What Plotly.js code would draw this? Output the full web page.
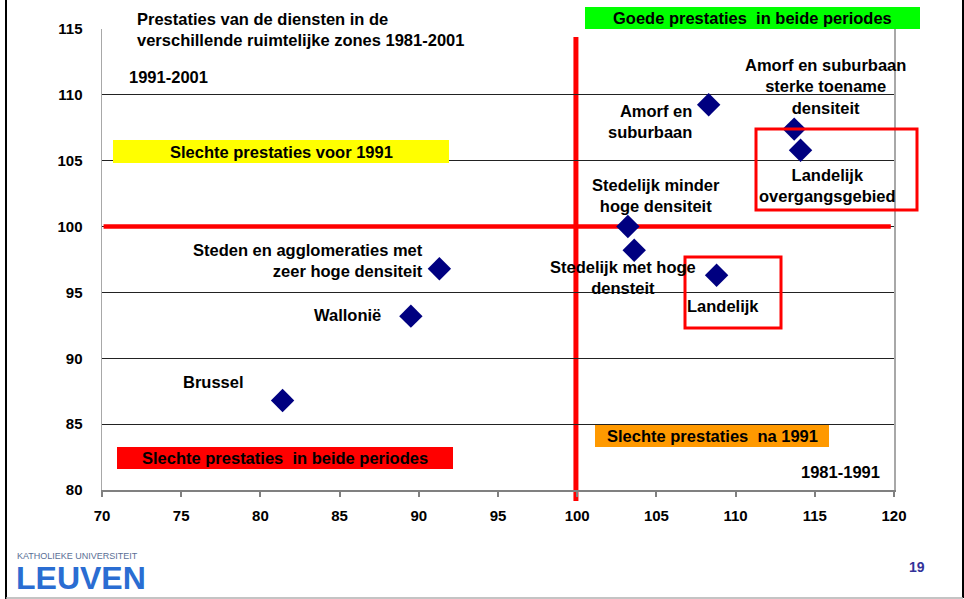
<!DOCTYPE html>
<html>
<head>
<meta charset="utf-8">
<script src="https://cdn.plot.ly/plotly-3.0.1.min.js"></script>
<style>html,body{margin:0;padding:0;background:#fff;}#chart{width:964px;height:599px;}</style>
</head>
<body>
<div id="chart"></div>
<script>
// ---- data ----
const zones = [
  'Amorf en suburbaan',
  'Amorf en suburbaan sterke toename densiteit',
  'Landelijk overgangsgebied',
  'Stedelijk minder hoge densiteit',
  'Stedelijk met hoge densteit',
  'Landelijk',
  'Steden en agglomeraties met zeer hoge densiteit',
  'Wallonië',
  'Brussel'
];
const zoneLabels = [
  'Amorf en<br>suburbaan',
  'Amorf en suburbaan<br>sterke toename<br>densiteit',
  'Landelijk<br>overgangsgebied',
  'Stedelijk minder<br>hoge densiteit',
  'Stedelijk met hoge<br>densteit',
  'Landelijk',
  'Steden en agglomeraties met<br>zeer hoge densiteit',
  'Wallonië',
  'Brussel'
];
const perf1981_1991 = [108.3, 113.7, 114.1, 103.2, 103.6, 108.8, 91.3, 89.5, 81.4];
const perf1991_2001 = [109.25, 107.4, 105.8, 100.0, 98.2, 96.3, 96.8, 93.2, 86.8];
const xTicks = [70, 75, 80, 85, 90, 95, 100, 105, 110, 115, 120];
const yTicks = [80, 85, 90, 95, 100, 105, 110, 115];
const chartTitle = ['Prestaties van de diensten in de', 'verschillende ruimtelijke zones 1981-2001'];
const quadrantTexts = {
  good: 'Goede prestaties \u00a0in beide periodes',
  badBefore: 'Slechte prestaties voor 1991',
  badAfter: 'Slechte prestaties \u00a0na 1991',
  badBoth: 'Slechte prestaties \u00a0in beide periodes'
};
const axisPeriodY = '1991-2001';
const axisPeriodX = '1981-1991';
const reference = 100;

// ---- layout helpers (pixel -> paper) ----
const M = {l: 102, r: 70, t: 29, b: 109};
const W = 964, H = 599;
const PW = W - M.l - M.r, PH = H - M.t - M.b;
const px = v => (v - M.l) / PW;
const py = v => (H - M.b - v) / PH;
const FONT = 'Liberation Sans, Arial, sans-serif';
const bold = (size, color) => ({family: FONT, size: size, color: color || '#000', weight: 'bold'});
const LBL = 16.5;

// label placement relative to each point (pixels)
const labelPlace = [
  {dx: -15, dy: -17, xa: 'right', al: 'right'},
  {dx: 31, dy: 43, xa: 'center', al: 'center'},
  {dx: 27, dy: -35, xa: 'center', al: 'center'},
  {dx: 28, dy: 31, xa: 'center', al: 'center'},
  {dx: -11, dy: -27, xa: 'center', al: 'center'},
  {dx: 6, dy: -31, xa: 'center', al: 'center'},
  {dx: -14, dy: 8, xa: 'right', al: 'right'},
  {dx: -28, dy: 1, xa: 'right', al: 'right'},
  {dx: -37, dy: 18, xa: 'right', al: 'right'}
];

const annotations = zoneLabels.map((t, i) => ({
  x: perf1981_1991[i], y: perf1991_2001[i], xref: 'x', yref: 'y',
  text: t, showarrow: false, xanchor: labelPlace[i].xa, yanchor: 'middle',
  align: labelPlace[i].al, xshift: labelPlace[i].dx, yshift: labelPlace[i].dy,
  font: bold(LBL)
}));

function boxText(text, x0, x1, y0, y1) {
  annotations.push({xref: 'paper', yref: 'paper', x: px((x0 + x1) / 2), y: py((y0 + y1) / 2),
    text: text, showarrow: false, xanchor: 'center', yanchor: 'middle', font: bold(LBL)});
}
boxText(quadrantTexts.good, 585, 920, 7, 29);
boxText(quadrantTexts.badBefore, 113, 449, 140, 163);
boxText(quadrantTexts.badAfter, 595, 829, 425, 447);
boxText(quadrantTexts.badBoth, 117, 453, 447, 469);

// title
annotations.push({xref: 'paper', yref: 'paper', x: px(135), y: py(30), xanchor: 'left', yanchor: 'middle',
  align: 'left', showarrow: false, text: chartTitle.join('<br>'), font: bold(LBL)});
annotations.push({xref: 'paper', yref: 'paper', x: px(127), y: py(77), xanchor: 'left', yanchor: 'middle',
  showarrow: false, text: axisPeriodY, font: bold(LBL)});
annotations.push({xref: 'paper', yref: 'paper', x: px(882), y: py(472), xanchor: 'right', yanchor: 'middle',
  showarrow: false, text: axisPeriodX, font: bold(LBL)});
// logo + page number
annotations.push({xref: 'paper', yref: 'paper', x: px(15), y: py(556), xanchor: 'left', yanchor: 'middle',
  showarrow: false, text: 'KATHOLIEKE UNIVERSITEIT', font: {family: FONT, size: 9, color: '#5a6f96'}});
annotations.push({xref: 'paper', yref: 'paper', x: px(14), y: py(578), xanchor: 'left', yanchor: 'middle',
  showarrow: false, text: '<b>LEUVEN</b>', font: {family: FONT, size: 32, color: '#2a6dd2', weight: 'bold'}});
annotations.push({xref: 'paper', yref: 'paper', x: px(917), y: py(567), xanchor: 'center', yanchor: 'middle',
  showarrow: false, text: '19', font: {family: FONT, size: 14, color: '#333399', weight: 'bold'}});

const rectP = (x0, x1, y0, y1, fill, layer) => ({type: 'rect', xref: 'paper', yref: 'paper',
  x0: px(x0), x1: px(x1), y0: py(y1), y1: py(y0), fillcolor: fill, line: {width: 0}, layer: layer || 'above'});

const shapes = [
  rectP(130, 488, 8, 50, '#ffffff'),
  rectP(585, 920, 7, 29, '#00ff00'),
  rectP(113, 449, 140, 163, '#ffff00'),
  rectP(595, 829, 425, 447, '#ff9900'),
  rectP(117, 453, 447, 469, '#ff0000'),
  // reference lines
  {type: 'line', xref: 'x', yref: 'paper', x0: reference - 0.08, x1: reference - 0.08, y0: py(37), y1: py(501),
    line: {color: '#ff0000', width: 5}, layer: 'between'},
  {type: 'line', xref: 'x', yref: 'y', x0: 70.1, x1: 119.8, y0: reference, y1: reference,
    line: {color: '#ff0000', width: 4.5}, layer: 'between'},
  // highlight outlines
  {type: 'rect', xref: 'paper', yref: 'paper', x0: px(756), x1: px(917), y0: py(210), y1: py(129),
    line: {color: '#ff0000', width: 3}},
  {type: 'rect', xref: 'paper', yref: 'paper', x0: px(685), x1: px(781), y0: py(328), y1: py(257),
    line: {color: '#ff0000', width: 3}},
  // slide frame
  {type: 'line', xref: 'paper', yref: 'paper', x0: px(6), x1: px(6), y0: py(0), y1: py(599), line: {color: '#000', width: 2}},
  {type: 'line', xref: 'paper', yref: 'paper', x0: px(963), x1: px(963), y0: py(0), y1: py(598), line: {color: '#000', width: 2}},
  {type: 'line', xref: 'paper', yref: 'paper', x0: px(6), x1: px(963), y0: py(598), y1: py(598), line: {color: '#b0b0b0', width: 1.5}}
];

const trace = {
  type: 'scatter', mode: 'markers', x: perf1981_1991, y: perf1991_2001, text: zones,
  hoverinfo: 'text+x+y', cliponaxis: false,
  marker: {symbol: 'diamond', size: 18, color: '#000080', line: {width: 0}}
};

const layout = {
  width: W, height: H, autosize: false,
  margin: M, paper_bgcolor: '#fff', plot_bgcolor: '#fff', showlegend: false,
  xaxis: {range: [70, 120], tickvals: xTicks, ticktext: xTicks.map(String), showgrid: false, zeroline: false,
    showline: true, linecolor: '#808080', linewidth: 2, ticks: 'outside', ticklen: 5, tickwidth: 2, tickcolor: '#808080',
    tickfont: bold(15), ticklabelstandoff: 6, fixedrange: true},
  yaxis: {range: [80, 115], tickvals: yTicks, ticktext: yTicks.map(String), showgrid: true, gridcolor: '#222', gridwidth: 1,
    zeroline: false, showline: true, linecolor: '#a8a8a8', linewidth: 1.5, mirror: true, ticks: '',
    tickfont: bold(15), ticklabelstandoff: 15, fixedrange: true},
  shapes: shapes, annotations: annotations
};

Plotly.newPlot('chart', [trace], layout, {displayModeBar: false, staticPlot: true});
</script>
</body>
</html>
